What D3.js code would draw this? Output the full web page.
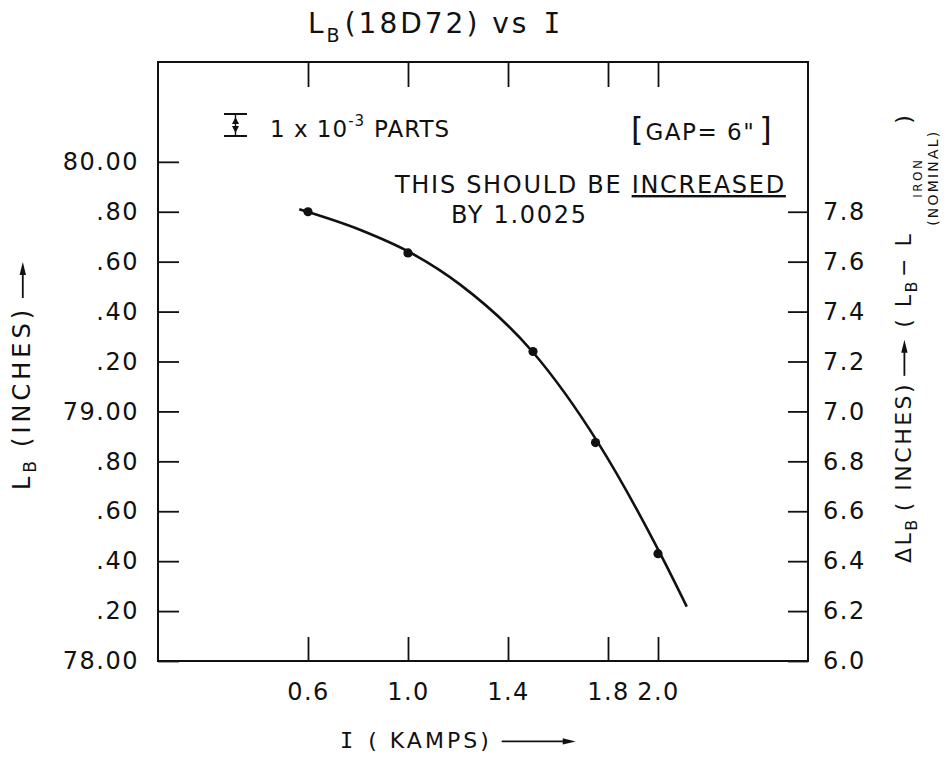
<!DOCTYPE html>
<html>
<head>
<meta charset="utf-8">
<script src="https://cdn.jsdelivr.net/npm/d3@7"></script>
<style>
  body { margin: 0; background: #fff; }
  svg { display: block; font-family: "DejaVu Sans", sans-serif; }
  text { fill: #111; }
</style>
</head>
<body>
<div id="chart"></div>
<script>
const width = 948;
const height = 758;
const ink = "#111";

const currentKA = [0.6, 1.0, 1.5, 1.75, 2.0];
const lengthIn = [79.80, 79.635, 79.24, 78.875, 78.43];

// courbe tracée à la main, relevée le long du trait
const curveKA = [0.565, 0.81, 1.01, 1.21, 1.5, 1.76, 2.01, 2.115];
const curveIn = [79.81, 79.727, 79.636, 79.507, 79.237, 78.875, 78.428, 78.218];

// graduations
const xTicks = [0.6, 1.0, 1.4, 1.8, 2.0];
const xTickLabels = ["0.6", "1.0", "1.4", "1.8", "2.0"];
const leftTicks = [78.0, 78.2, 78.4, 78.6, 78.8, 79.0, 79.2, 79.4, 79.6, 79.8, 80.0];
const leftTickLabels = ["78.00", ".20", ".40", ".60", ".80", "79.00", ".20", ".40", ".60", ".80", "80.00"];
const rightTicks = [6.0, 6.2, 6.4, 6.6, 6.8, 7.0, 7.2, 7.4, 7.6, 7.8];
const rightTickLabels = ["6.0", "6.2", "6.4", "6.6", "6.8", "7.0", "7.2", "7.4", "7.6", "7.8"];

const svg = d3.select("#chart")
  .append("svg")
  .attr("width", width)
  .attr("height", height);

// 1. échelles
const x = d3.scaleLinear().domain([0, 2.6]).range([158, 808]);
const y = d3.scaleLinear().domain([78.0, 80.4]).range([661, 62]);
const yR = d3.scaleLinear().domain([6.0, 8.4]).range([661, 62]);

function styleAxis(g, ls) {
  g.attr("font-family", "DejaVu Sans").attr("font-size", 24);
  g.select(".domain").remove();
  g.selectAll(".tick line").attr("stroke", ink).attr("stroke-width", 1.8);
  g.selectAll(".tick text").attr("fill", ink).attr("letter-spacing", ls);
}

// 2. axes
svg.append("g")
  .attr("transform", `translate(${x.range()[0]},0)`)
  .call(d3.axisLeft(y).tickValues(leftTicks).tickSize(-21).tickPadding(19)
    .tickFormat((d, i) => leftTickLabels[i]))
  .call(g => styleAxis(g, 1.5));

svg.append("g")
  .attr("transform", `translate(${x.range()[1]},0)`)
  .call(d3.axisRight(yR).tickValues(rightTicks).tickSize(-20).tickPadding(15)
    .tickFormat((d, i) => rightTickLabels[i]))
  .call(g => styleAxis(g, 1.5));

svg.append("g")
  .attr("transform", `translate(0,${y.range()[0]})`)
  .call(d3.axisBottom(x).tickValues(xTicks).tickSize(-24).tickPadding(22)
    .tickFormat((d, i) => xTickLabels[i]))
  .call(g => styleAxis(g, 1.5));

svg.append("g")
  .attr("transform", `translate(0,${y.range()[1]})`)
  .call(d3.axisTop(x).tickValues(xTicks).tickSize(-25).tickFormat(() => ""))
  .call(g => styleAxis(g, 0));

// cadre
svg.append("rect")
  .attr("x", x.range()[0]).attr("y", y.range()[1])
  .attr("width", x.range()[1] - x.range()[0])
  .attr("height", y.range()[0] - y.range()[1])
  .attr("fill", "none").attr("stroke", ink).attr("stroke-width", 2);

// 3. courbe + points
const line = d3.line()
  .x(d => x(d[0]))
  .y(d => y(d[1]))
  .curve(d3.curveMonotoneX);

svg.append("path")
  .datum(curveKA.map((k, i) => [k, curveIn[i]]))
  .attr("d", line)
  .attr("fill", "none")
  .attr("stroke", ink)
  .attr("stroke-width", 2.6);

svg.selectAll(".pt")
  .data(currentKA.map((k, i) => [k, lengthIn[i]]))
  .join("circle")
  .attr("class", "pt")
  .attr("cx", d => x(d[0]))
  .attr("cy", d => y(d[1]))
  .attr("r", 4.6)
  .attr("fill", ink);

// 4. textes
function arrow(g, x0, x1, yy) {
  g.append("line").attr("x1", x0).attr("x2", x1 - 8).attr("y1", yy).attr("y2", yy)
    .attr("stroke", ink).attr("stroke-width", 1.8);
  g.append("path")
    .attr("d", `M${x1},${yy} L${x1 - 13},${yy - 3.2} L${x1 - 13},${yy + 3.2} Z`)
    .attr("fill", ink);
}

// enchaîne des morceaux de texte (indices, flèches) sur une ligne de base
function chain(g, pieces, size, ls) {
  let cx = 0;
  pieces.forEach(p => {
    if (p.arrow) {
      arrow(g, cx + p.pre, cx + p.pre + p.arrow, -size * 0.3);
      cx += p.pre + p.arrow + p.post;
      return;
    }
    const t = g.append("text")
      .attr("x", cx)
      .attr("y", p.dy || 0)
      .attr("font-size", p.size || size)
      .attr("letter-spacing", p.ls != null ? p.ls : ls)
      .text(p.t);
    if (p.font) t.attr("font-family", p.font);
    cx += t.node().getComputedTextLength() + (p.gap || 0);
  });
  return cx;
}

// titre
chain(svg.append("g").attr("transform", "translate(308,33)"), [
  { t: "L" },
  { t: "B", size: 19, dy: 9, gap: 2 },
  { t: "(18D72) vs", gap: 14 },
  { t: "I", font: "DejaVu Sans Mono" }
], 28, 3);

// titre axe x
chain(svg.append("g").attr("transform", "translate(340,748)"), [
  { t: "I", font: "DejaVu Sans Mono", gap: 12 },
  { t: "( KAMPS)" },
  { arrow: 74, pre: 10, post: 0 }
], 22, 3);

// titre axe gauche
chain(svg.append("g").attr("transform", "translate(30,490) rotate(-90)"), [
  { t: "L" },
  { t: "B", size: 17, dy: 6, gap: 10 },
  { t: "(INCHES)", gap: 2 },
  { arrow: 36, pre: 6, post: 0 }
], 24, 4);

// titre axe droit
const gR = svg.append("g").attr("transform", "translate(911,563) rotate(-90)");
const endR = chain(gR, [
  { t: "\u0394L" },
  { t: "B", size: 16, dy: 6, gap: 6 },
  { t: "( INCHES)" },
  { arrow: 36, pre: 6, post: 12 },
  { t: "( L" },
  { t: "B", size: 16, dy: 6, gap: 2 },
  { t: "\u2212 L" }
], 22, 2.5);
gR.append("text").attr("x", endR + 34).attr("y", 11).attr("font-size", 12)
  .attr("letter-spacing", 2.5).text("IRON");
gR.append("text").attr("x", endR + 6).attr("y", 27).attr("font-size", 14)
  .attr("letter-spacing", 2.2).text("(NOMINAL)");
gR.append("text").attr("x", endR + 108).attr("y", 0).attr("font-size", 22).text(")");

// symbole barre d'erreur
const eb = svg.append("g").attr("stroke", ink).attr("stroke-width", 2);
eb.append("line").attr("x1", 224).attr("x2", 247).attr("y1", 114).attr("y2", 114);
eb.append("line").attr("x1", 224).attr("x2", 247).attr("y1", 136).attr("y2", 136);
eb.append("line").attr("x1", 235.5).attr("x2", 235.5).attr("y1", 114).attr("y2", 136).attr("stroke-width", 1.4);
svg.append("path").attr("d", "M235.5,117 L232,124 L239,124 Z M235.5,133 L232,126 L239,126 Z").attr("fill", ink);

chain(svg.append("g").attr("transform", "translate(270,137)"), [
  { t: "1 x 10" },
  { t: "-3", size: 15, dy: -11, ls: 1, gap: 9 },
  { t: "PARTS" }
], 23, 1);

chain(svg.append("g").attr("transform", "translate(631,140)"), [
  { t: "[", size: 32, ls: 0, gap: 2 },
  { t: "GAP= 6\"", gap: 4 },
  { t: "]", size: 32, ls: 0 }
], 23, 1.5);

const noteT = svg.append("text")
  .attr("x", 395).attr("y", 193)
  .attr("font-size", 24).attr("letter-spacing", 1.7);
noteT.append("tspan").text("THIS SHOULD BE ");
noteT.append("tspan").attr("text-decoration", "underline").text("INCREASED");

svg.append("text")
  .attr("x", 451).attr("y", 223)
  .attr("font-size", 24).attr("letter-spacing", 1.7)
  .text("BY 1.0025");
</script>
</body>
</html>
